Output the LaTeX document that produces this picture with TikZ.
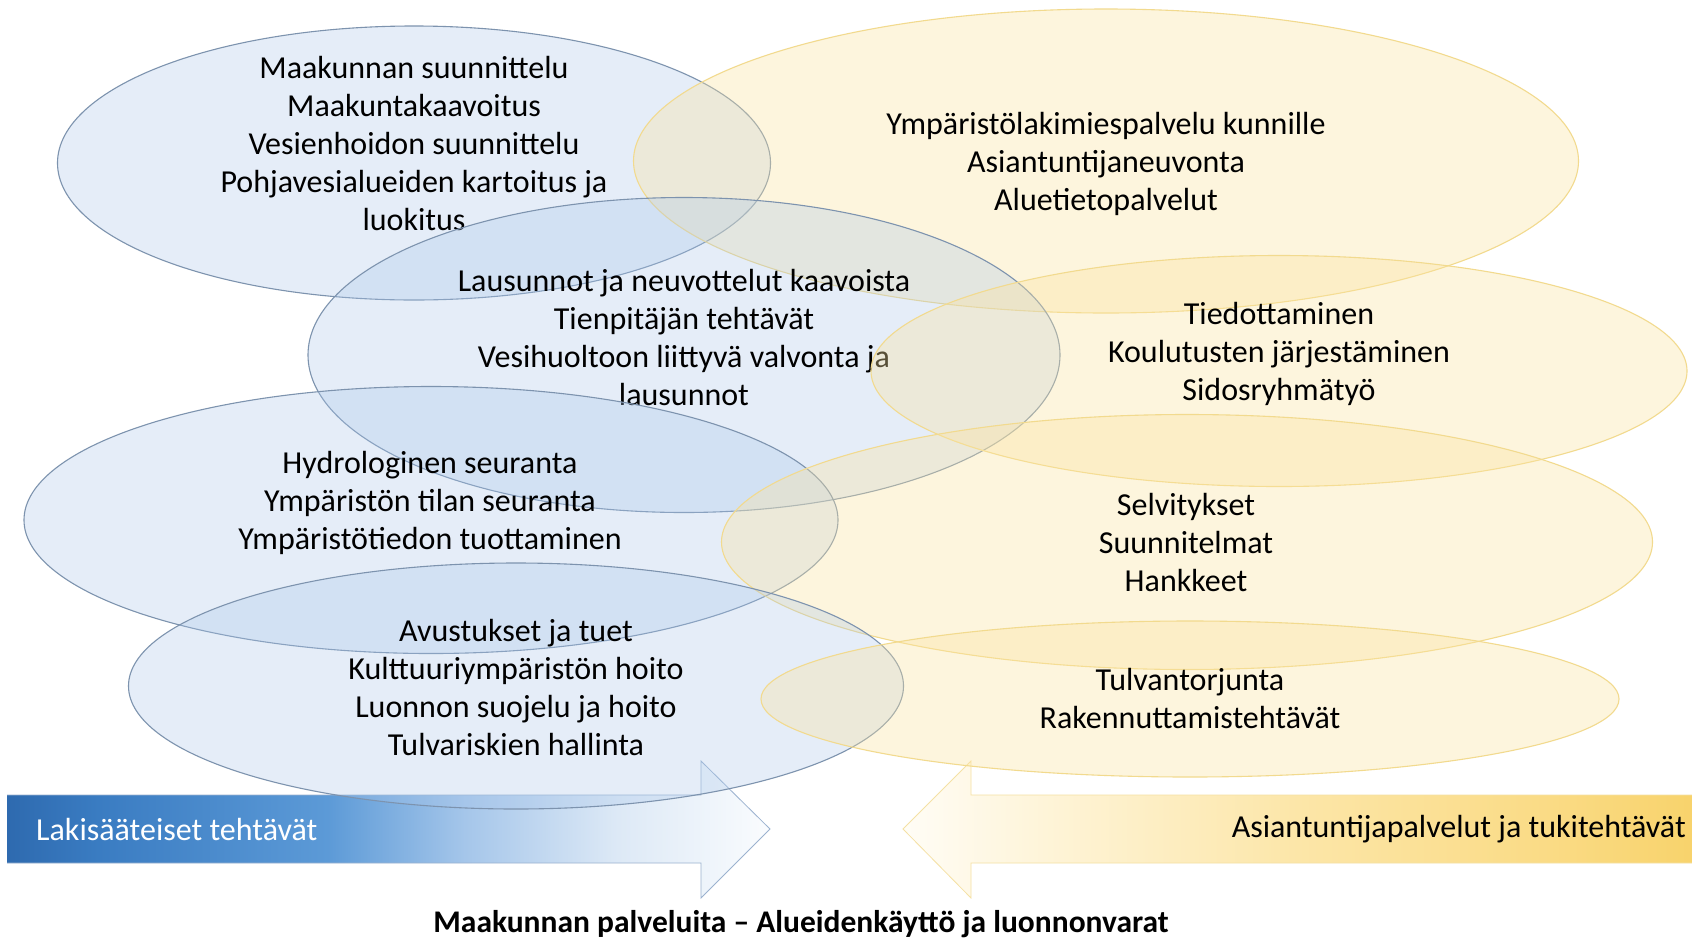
\documentclass[tikz,border=0pt]{standalone}
\usepackage{fontspec}
\setmainfont{Carlito}
\usetikzlibrary{shapes.geometric}
\definecolor{bfill}{HTML}{A9C6EA}
\definecolor{bline}{HTML}{7D93AE}
\definecolor{yfill}{HTML}{FBE3A0}
\definecolor{yline}{HTML}{F2DA8E}
\definecolor{ba0}{HTML}{2E6AAF}
\definecolor{ba1}{HTML}{3A7CC2}
\definecolor{ba2}{HTML}{5C9AD7}
\definecolor{ba3}{HTML}{A5C6EA}
\definecolor{ba4}{HTML}{DDE9F6}
\definecolor{ba5}{HTML}{FAFCFE}
\definecolor{ya0}{HTML}{FFFDF6}
\definecolor{ya1}{HTML}{FEF4D8}
\definecolor{ya2}{HTML}{FCE6A8}
\definecolor{ya3}{HTML}{FADB85}
\definecolor{ya4}{HTML}{F8D36C}
\definecolor{arrbline}{HTML}{9BB2CF}
\definecolor{arryline}{HTML}{F5E1A4}
\pgfdeclarehorizontalshading{bluearr}{100bp}{color(0bp)=(ba0); color(25bp)=(ba0); color(31bp)=(ba1); color(46bp)=(ba2); color(55bp)=(ba3); color(65bp)=(ba4); color(75bp)=(ba5); color(100bp)=(ba5)}
\pgfdeclarehorizontalshading{yellowarr}{100bp}{color(0bp)=(ya0); color(25bp)=(ya0); color(34bp)=(ya1); color(50bp)=(ya2); color(66bp)=(ya3); color(75bp)=(ya4); color(100bp)=(ya4)}
\tikzset{
  bell/.style={ellipse, draw=bline, line width=1.1pt, fill=bfill, fill opacity=0.3, draw opacity=1, inner sep=0pt, outer sep=0pt},
  yell/.style={ellipse, draw=yline, line width=1.1pt, fill=yfill, fill opacity=0.35, draw opacity=1, inner sep=0pt, outer sep=0pt},
  txt/.style={align=center, text=black, font=\fontsize{32}{38}\selectfont, inner sep=0pt},
}
\begin{document}
\begin{tikzpicture}[x=1pt,y=-1pt]
\useasboundingbox (0,0) rectangle (1692,938);
\fill[white] (0,0) rectangle (1692,938);
% arrows
\shade[shading=bluearr]
  (7,795) -- (701,795) -- (701,761) -- (770,829) -- (701,898) -- (701,863) -- (7,863) -- cycle;
\draw[arrbline, line width=0.8pt] (7,795) -- (701,795) -- (701,761) -- (770,829) -- (701,898) -- (701,863) -- (7,863);
\shade[shading=yellowarr]
  (1692,795) -- (971,795) -- (971,761) -- (903,829) -- (971,898) -- (971,863) -- (1692,863) -- cycle;
\draw[arryline, line width=0.8pt] (1692,795) -- (971,795) -- (971,761) -- (903,829) -- (971,898) -- (971,863) -- (1692,863);
\node[txt, anchor=west, text=white] (lak) at (36,829) {Lakisääteiset tehtävät};
\node[txt, anchor=east] (asi) at (1686,829) {Asiantuntijapalvelut ja tukitehtävät};
% ellipses
\node[bell, minimum width=713pt, minimum height=274pt] (b1) at (414,163) {};
\node[txt] (tb1) at (414,144) {Maakunnan suunnittelu\\Maakuntakaavoitus\\Vesienhoidon suunnittelu\\Pohjavesialueiden kartoitus ja\\luokitus};
\node[yell, minimum width=945pt, minimum height=304pt] (y1) at (1106,161) {};
\node[txt] (ty1) at (1106,164) {Ympäristölakimiespalvelu kunnille\\Asiantuntijaneuvonta\\Aluetietopalvelut};
\node[bell, minimum width=752pt, minimum height=315pt] (b2) at (684,355) {};
\node[txt] (tb2) at (684,337) {Lausunnot ja neuvottelut kaavoista\\Tienpitäjän tehtävät\\Vesihuoltoon liittyvä valvonta ja\\lausunnot};
\node[yell, minimum width=816pt, minimum height=231pt] (y2) at (1279,371) {};
\node[txt] (ty2) at (1279,354) {Tiedottaminen\\Koulutusten järjestäminen\\Sidosryhmätyö};
\node[bell, minimum width=814pt, minimum height=267pt] (b3) at (431,520) {};
\node[txt] (tb3) at (430,503) {Hydrologinen seuranta\\Ympäristön tilan seuranta\\Ympäristötiedon tuottaminen};
\node[yell, minimum width=931pt, minimum height=255pt] (y3) at (1187,542) {};
\node[txt] (ty3) at (1186,542) {Selvitykset\\Suunnitelmat\\Hankkeet};
\node[bell, minimum width=775pt, minimum height=246pt] (b4) at (516,686) {};
\node[txt] (tb4) at (516,687) {Avustukset ja tuet\\Kulttuuriympäristön hoito\\Luonnon suojelu ja hoito\\Tulvariskien hallinta};
\node[yell, minimum width=858pt, minimum height=156pt] (y4) at (1190,699) {};
\node[txt] (ty4) at (1190,698) {Tulvantorjunta\\Rakennuttamistehtävät};
% title
\node[txt, font=\bfseries\fontsize{31.5}{36}\selectfont] (title) at (801,924) {Maakunnan palveluita – Alueidenkäyttö ja luonnonvarat};
\end{tikzpicture}
\end{document}
